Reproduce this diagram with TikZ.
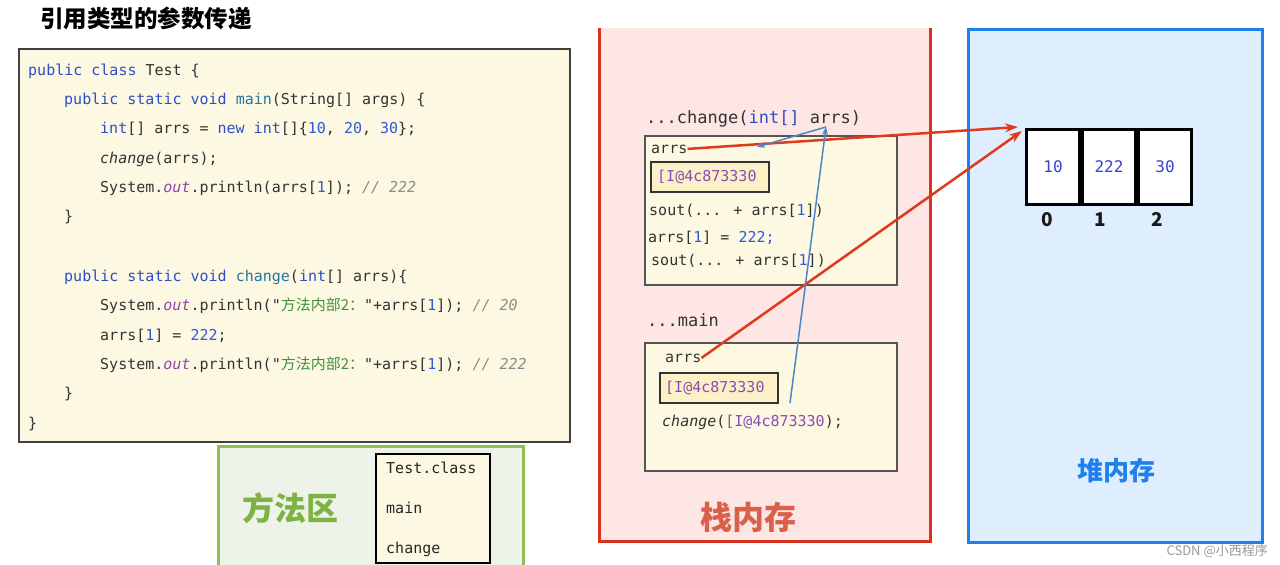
\documentclass[tikz,border=0pt]{standalone}
\usepackage{fontspec}
\usepackage{xcolor}
\usetikzlibrary{arrows.meta}
\setmonofont{DejaVu Sans Mono}
\newfontfamily\codefont{DejaVu Sans Mono}
\newfontfamily\cjk{Noto Sans CJK SC}
\definecolor{codetext}{HTML}{333333}
\definecolor{kwblue}{HTML}{2E4FC4}
\definecolor{nmteal}{HTML}{23789A}
\definecolor{numblue}{HTML}{2F5AD9}
\definecolor{cellblue}{HTML}{3445D0}
\definecolor{outpurple}{HTML}{8E44AD}
\definecolor{cmgray}{HTML}{8C8C8C}
\definecolor{strgreen}{HTML}{3F8F3F}
\definecolor{cream}{HTML}{FDF8E2}
\definecolor{addrfill}{HTML}{FCF1C6}
\definecolor{addrpurple}{HTML}{8A4DB5}
\definecolor{stackfill}{HTML}{FDE6E3}
\definecolor{stackred}{HTML}{D8321E}
\definecolor{stacklabel}{HTML}{D9604A}
\definecolor{heapfill}{HTML}{DFEEFE}
\definecolor{heapblue}{HTML}{1E80EE}
\definecolor{methfill}{HTML}{EEF3EA}
\definecolor{methgreen}{HTML}{8CC152}
\definecolor{methlabel}{HTML}{7CB342}
\definecolor{arrowred}{HTML}{E03A1E}
\definecolor{arrowblue}{HTML}{4A86C8}
\definecolor{framegray}{HTML}{555555}
\newcommand\ckw[1]{\textcolor{kwblue}{#1}}
\newcommand\cnm[1]{\textcolor{nmteal}{#1}}
\newcommand\cnum[1]{\textcolor{numblue}{#1}}
\newcommand\cout[1]{\textcolor{outpurple}{\itshape #1}}
\newcommand\ccm[1]{\textcolor{cmgray}{\itshape #1}}
\newcommand\cstr[1]{{\cjk\textcolor{strgreen}{#1}}}
\tikzset{
  code/.style={anchor=base west, inner sep=0pt, font=\codefont\fontsize{15}{18}\selectfont, text=codetext},
  hdr/.style={anchor=base west, inner sep=0pt, font=\codefont\fontsize{17}{20}\selectfont, text=codetext},
  framebox/.style={draw=framegray, line width=1.5pt, fill=cream},
  addrbox/.style={draw=black!80, line width=2pt, fill=addrfill, anchor=north west, minimum width=118pt, minimum height=30pt, inner sep=0pt},
  addrtext/.style={anchor=west, inner sep=0pt, font=\codefont\fontsize{15}{18}\selectfont, text=addrpurple},
  redarrow/.style={draw=arrowred, line width=2.5pt, -{Stealth[length=13pt,width=9pt]}},
  bluearrow/.style={draw=arrowblue, line width=1.5pt, -{Stealth[length=8pt,width=6pt]}},
  cell/.style={draw=black, line width=3pt, fill=white, anchor=north west, minimum width=53pt, minimum height=75pt, inner sep=0pt, font=\codefont\fontsize{16}{18}\selectfont, text=cellblue},
  idx/.style={anchor=base, inner sep=0pt, font=\cjk\bfseries\fontsize{19}{22}\selectfont, text=black!90},
  biglabel/.style={inner sep=0pt, font=\cjk\bfseries\fontsize{32}{36}\selectfont},
}
\begin{document}
\begin{tikzpicture}[x=1pt,y=-1pt]
\clip (0,0) rectangle (1280,565);
\fill[white] (0,0) rectangle (1280,565);

% title
\node[anchor=west, inner sep=0pt, font=\cjk\bfseries\fontsize{23.5}{27}\selectfont] (title) at (40,18) {引用类型的参数传递};

% code box
\node[draw=black!75, line width=2pt, fill=cream, anchor=north west, minimum width=551pt, minimum height=393pt, inner sep=0pt] (codebox) at (18,48) {};
\node[code] (l1) at (28,75) {\ckw{public} \ckw{class} Test \{};
\node[code] (l2) at (64,104) {\ckw{public} \ckw{static} \ckw{void} \cnm{main}(String[] args) \{};
\node[code] (l3) at (100,133) {\ckw{int}[] arrs = \ckw{new} \ckw{int}[]\{\cnum{10}, \cnum{20}, \cnum{30}\};};
\node[code] (l4) at (100,163) {\textit{change}(arrs);};
\node[code] (l5) at (100,192) {System.\cout{out}.println(arrs[\cnum{1}]); \ccm{// 222}};
\node[code] (l6) at (64,221) {\}};
\node[code] (l7) at (64,281) {\ckw{public} \ckw{static} \ckw{void} \cnm{change}(\ckw{int}[] arrs)\{};
\node[code] (l8) at (100,310) {System.\cout{out}.println("\cstr{方法内部2：}"+arrs[\cnum{1}]); \ccm{// 20}};
\node[code] (l9) at (100,340) {arrs[\cnum{1}] = \cnum{222};};
\node[code] (l10) at (100,369) {System.\cout{out}.println("\cstr{方法内部2：}"+arrs[\cnum{1}]); \ccm{// 222}};
\node[code] (l11) at (64,398) {\}};
\node[code] (l12) at (28,428) {\}};

% method area
\node[draw=methgreen, line width=3pt, fill=methfill, anchor=north west, minimum width=305pt, minimum height=140pt, inner sep=0pt] (meth) at (217,445) {};
\node[biglabel, text=methlabel] (methlbl) at (290,508) {方法区};
\node[draw=black, line width=1.5pt, fill=cream, anchor=north west, minimum width=114pt, minimum height=109pt, inner sep=0pt] (methlist) at (375,453) {};
\node[code, text=black!85] (mtc) at (386,473) {Test.class};
\node[code, text=black!85] (mmain) at (386,513) {main};
\node[code, text=black!85] (mchange) at (386,553) {change};

% stack
\fill[stackfill] (599,28) rectangle (930,541);
\draw[stackred, line width=3pt] (599,28) -- (599,541) -- (930,541) -- (930,28);
\node[biglabel, text=stacklabel] (stacklbl) at (748,517) {栈内存};

% change frame
\node[hdr] (chdr) at (646,123) {...change(\ckw{int[]} arrs)};
\node[framebox, anchor=north west, minimum width=252pt, minimum height=149pt, inner sep=0pt] (cframe) at (644,135) {};
\node[code] (carrs) at (651,153) {arrs};
\node[addrbox] (cbox) at (650,161) {};
\node[addrtext] (caddr) at ([xshift=7pt]cbox.west) {[I@4c873330};
\node[code] (cs1) at (649,215) {sout(... + arrs[\cnum{1}])};
\node[code] (cset) at (648,242) {arrs[\cnum{1}] = \cnum{222;}};
\node[code] (cs2) at (651,265) {sout(... + arrs[\cnum{1}])};

% main frame
\node[hdr] (mhdr) at (647,326) {...main};
\node[framebox, anchor=north west, minimum width=252pt, minimum height=128pt, inner sep=0pt] (mframe) at (644,342) {};
\node[code] (marrs) at (665,362) {arrs};
\node[addrbox] (mbox) at (659,372) {};
\node[addrtext] (maddr) at ([xshift=6pt]mbox.west) {[I@4c873330};
\node[code] (mcall) at (662,426) {\textit{change}(\textcolor{addrpurple}{[I@4c873330});};

% heap
\node[draw=heapblue, line width=3pt, fill=heapfill, anchor=north west, minimum width=294pt, minimum height=513pt, inner sep=0pt] (heap) at (967,28) {};
\node[biglabel, text=heapblue, font=\cjk\bfseries\fontsize{26}{30}\selectfont] (heaplbl) at (1116,471) {堆内存};
\node[cell] (c0) at (1025,128) {10};
\node[cell] (c1) at (c0.north east) {222};
\node[cell] (c2) at (c1.north east) {30};
\node[idx] (i0) at (1047,226) {0};
\node[idx] (i1) at (1100,226) {1};
\node[idx] (i2) at (1157,226) {2};

% watermark
\node[anchor=east, inner sep=0pt, font=\cjk\fontsize{13}{15}\selectfont, text=black!40] (wm) at (1268,551) {CSDN @小西程序};

% connectors
\coordinate (hp1) at (1018,127);
\coordinate (hp2) at (1022,131);
\coordinate (pa) at (826,127);
\coordinate (la) at (757,147);
\coordinate (mc) at (790,403);
\draw[redarrow] (carrs.east) -- (hp1);
\draw[redarrow] (marrs.east) -- (hp2);
\draw[bluearrow] (pa) -- (la);
\draw[bluearrow] (mc) -- (pa);
\end{tikzpicture}
\end{document}
